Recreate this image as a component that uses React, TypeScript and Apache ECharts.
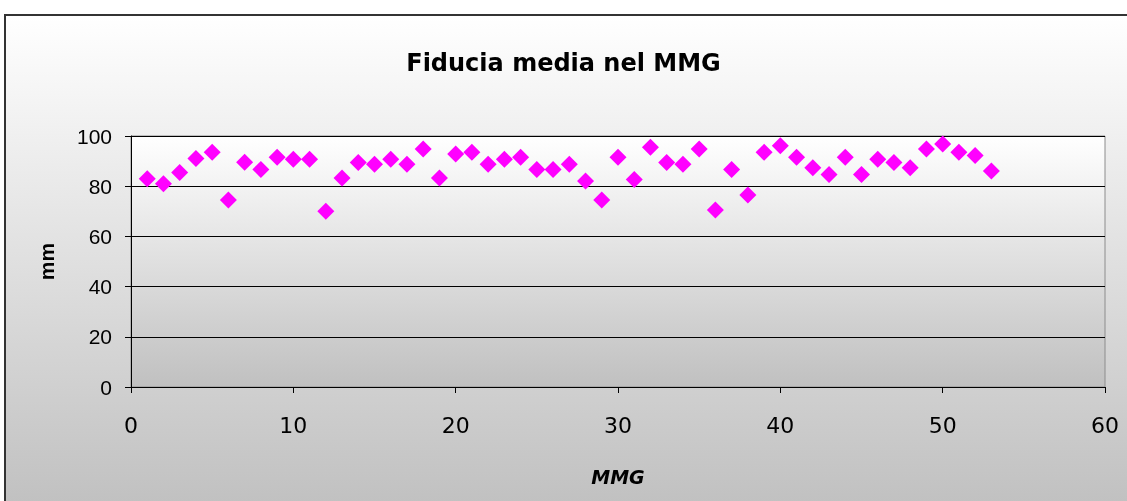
import React, { useEffect, useRef } from "react";
import * as echarts from "echarts";

const titleText = "Fiducia media nel MMG";
const xAxisName = "MMG";
const yAxisName = "mm";
const mmgIndex = [
  1, 2, 3, 4, 5, 6, 7, 8, 9, 10, 11, 12, 13, 14, 15, 16, 17, 18, 19, 20,
  21, 22, 23, 24, 25, 26, 27, 28, 29, 30, 31, 32, 33, 34, 35, 36, 37, 38, 39, 40,
  41, 42, 43, 44, 45, 46, 47, 48, 49, 50, 51, 52, 53,
];
const fiduciaValues = [
  83, 81, 85.5, 91, 93.5, 74.5, 89.5, 86.7, 91.5, 90.7, 90.7, 70, 83.3, 89.4, 88.7, 90.7, 88.7, 94.8, 83.3, 92.8,
  93.5, 88.7, 90.7, 91.5, 86.7, 86.7, 88.7, 82.1, 74.5, 91.5, 82.7, 95.5, 89.4, 88.7, 94.8, 70.5, 86.7, 76.5, 93.5, 96.1,
  91.5, 87.4, 84.7, 91.5, 84.7, 90.7, 89.4, 87.4, 94.8, 96.8, 93.5, 92.2, 86.1,
];

export default function App() {
  const ref = useRef<HTMLDivElement>(null);
  useEffect(() => {
    if (!ref.current) return;
    const chart = echarts.init(ref.current, undefined, { renderer: "svg" });
    const comic = "'DejaVu Sans', sans-serif";
    const arial = "'Liberation Sans', Arial, sans-serif";
    chart.setOption({
      animation: false,
      graphic: [
        {
          type: "rect",
          z: -10,
          silent: true,
          shape: { x: 5, y: 15, width: 1140, height: 495 },
          style: {
            fill: {
              type: "linear",
              x: 0,
              y: 0,
              x2: 0,
              y2: 1,
              colorStops: [
                { offset: 0, color: "#ffffff" },
                { offset: 1, color: "#c0c0c0" },
              ],
            },
            stroke: "#333333",
            lineWidth: 2,
          },
        },
      ],
      title: {
        text: titleText,
        left: "center",
        top: 46,
        textStyle: { fontFamily: comic, fontWeight: "bold", fontSize: 24, color: "#000" },
      },
      grid: {
        left: 131,
        right: 22,
        top: 136,
        bottom: 114,
        show: true,
        borderColor: "#8c8c8c",
        borderWidth: 1,
        backgroundColor: {
          type: "linear",
          x: 0,
          y: 0,
          x2: 0,
          y2: 1,
          colorStops: [
            { offset: 0, color: "#ffffff" },
            { offset: 1, color: "#c0c0c0" },
          ],
        },
      },
      xAxis: {
        type: "value",
        min: 0,
        max: 60,
        interval: 10,
        name: xAxisName,
        nameLocation: "middle",
        nameGap: 80,
        nameTextStyle: { fontFamily: comic, fontWeight: "bold", fontStyle: "italic", fontSize: 19, color: "#000" },
        axisLine: { show: true, lineStyle: { color: "#000", width: 1 } },
        axisTick: { show: true, inside: false, length: 6, lineStyle: { color: "#000" } },
        axisLabel: { margin: 27, fontFamily: comic, fontSize: 22, color: "#000" },
        splitLine: { show: false },
      },
      yAxis: {
        type: "value",
        min: 0,
        max: 100,
        interval: 20,
        name: yAxisName,
        nameLocation: "middle",
        nameGap: 74,
        nameRotate: 90,
        nameTextStyle: { fontFamily: arial, fontWeight: "bold", fontSize: 21, color: "#000" },
        axisLine: { show: true, lineStyle: { color: "#000", width: 1 } },
        axisTick: { show: true, inside: false, length: 6, lineStyle: { color: "#000" } },
        axisLabel: { margin: 19, fontFamily: arial, fontSize: 21, color: "#000" },
        splitLine: { show: true, lineStyle: { color: "#000", width: 1 } },
      },
      series: [
        {
          type: "scatter",
          symbol: "diamond",
          symbolSize: 17,
          itemStyle: { color: "#ff00ff", opacity: 1 },
          data: mmgIndex.map((x, i) => [x, fiduciaValues[i]]),
        },
      ],
    });
    return () => chart.dispose();
  }, []);
  return (
    <div
      ref={ref}
      style={{ position: "fixed", left: 0, top: 0, width: 1127, height: 501 }}
    />
  );
}
